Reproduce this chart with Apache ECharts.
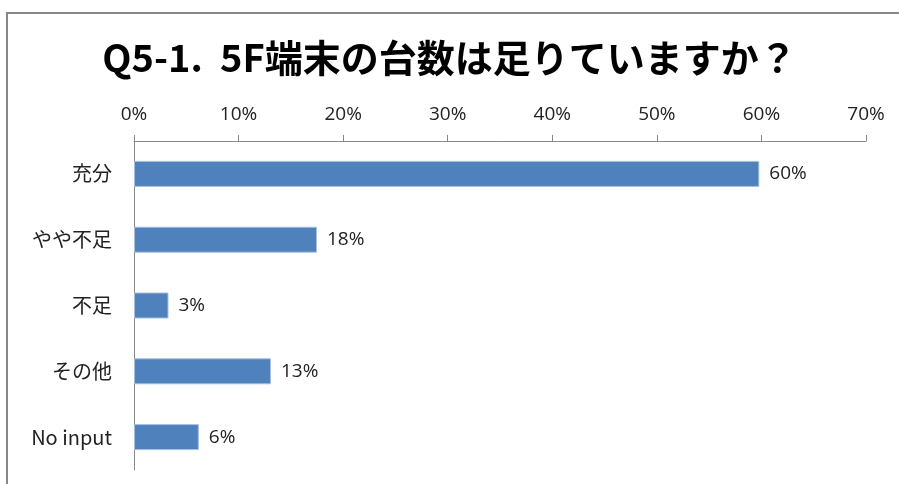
<!DOCTYPE html>
<html><head><meta charset="utf-8">
<script src="https://cdn.jsdelivr.net/npm/echarts@6/dist/echarts.min.js"></script>
<style>html,body{margin:0;padding:0;background:#fff}#c{width:899px;height:484px}</style>
</head><body><div id="c"></div>
<script>
const titleText = 'Q5-1.  5F端末の台数は足りていますか？';
const categories = ['充分', 'やや不足', '不足', 'その他', 'No input'];
const values = [59.8, 17.5, 3.3, 13.1, 6.2];
const axisMin = 0, axisMax = 70, axisStep = 10;

const chart = echarts.init(document.getElementById('c'));
chart.setOption({
  animation: false,
  backgroundColor: '#fff',
  title: {
    text: titleText, left: 'center', top: 34,
    textStyle: { fontFamily: 'Noto Sans CJK JP', fontSize: 38, fontWeight: 'bold', color: '#000' }
  },
  graphic: [{
    type: 'rect', shape: { x: 7, y: 13, width: 1000, height: 600 },
    style: { fill: 'none', stroke: '#878787', lineWidth: 2 }, silent: true
  }],
  grid: { left: 134, right: 33, top: 141, bottom: 14, containLabel: false },
  xAxis: {
    type: 'value', position: 'top', min: axisMin, max: axisMax, interval: axisStep,
    axisLine: { show: true, lineStyle: { color: '#888', width: 1 } },
    axisTick: { show: true, length: 6, lineStyle: { color: '#888' } },
    splitLine: { show: false },
    axisLabel: { formatter: '{value}%', margin: 17, fontFamily: 'Open Sans', fontSize: 19, color: '#222' }
  },
  yAxis: {
    type: 'category', data: categories, inverse: true,
    axisLine: { show: true, lineStyle: { color: '#888', width: 1 } },
    axisTick: { show: false },
    axisLabel: { margin: 22, fontFamily: 'Noto Sans CJK JP', fontSize: 20, color: '#222' }
  },
  series: [{
    type: 'bar', data: values, barWidth: 26,
    itemStyle: { color: '#4F81BD', borderColor: '#A7C0DE', borderWidth: 1 },
    label: { show: true, position: 'right', distance: 10,
      formatter: p => Math.round(p.value) + '%',
      fontFamily: 'Open Sans', fontSize: 19, color: '#222' }
  }]
});
</script></body></html>
